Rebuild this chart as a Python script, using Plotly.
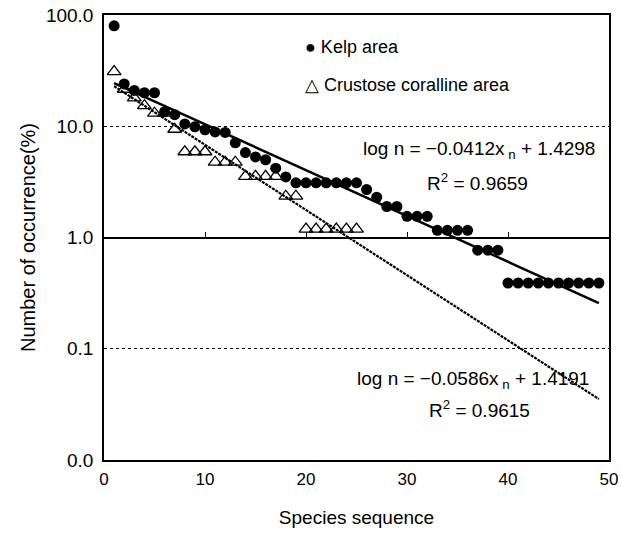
import plotly.graph_objects as go

# ---- data ----
kelp_x = list(range(1, 50))
kelp_y = [80, 24, 21, 20, 20, 13.5, 12.7, 10.5, 9.9, 9.3,
          8.9, 8.8, 7.1, 5.8, 5.3, 5.0, 4.2, 3.5,
          3.1, 3.1, 3.1, 3.1, 3.1, 3.1, 3.1,
          2.7, 2.3, 1.9, 1.9, 1.55, 1.55, 1.55,
          1.16, 1.16, 1.16, 1.16, 0.77, 0.77, 0.77,
          0.39, 0.39, 0.39, 0.39, 0.39, 0.39, 0.39, 0.39, 0.39, 0.39]

crust_x = list(range(1, 26))
crust_y = [31, 21.5, 18, 15.3, 13.1, 13.1, 9.4, 5.9, 5.9, 5.9,
           4.75, 4.75, 4.75, 3.55, 3.55, 3.55, 3.55, 2.35, 2.35,
           1.19, 1.19, 1.19, 1.19, 1.19, 1.19]

# regression lines: log10 n = a*x + b
kelp_fit = (-0.0412, 1.4298)
crust_fit = (-0.0586, 1.4191)
fit_x = [1, 49]

x_ticks = [0, 10, 20, 30, 40, 50]
y_ticks = [0.01, 0.1, 1, 10, 100]
y_ticktext = ["0.0", "0.1", "1.0", "10.0", "100.0"]

FONT = "Liberation Sans, Arial, sans-serif"

fig = go.Figure()

fig.add_trace(go.Scatter(
    x=fit_x, y=[10 ** (kelp_fit[0] * v + kelp_fit[1]) for v in fit_x],
    mode="lines", line=dict(color="black", width=2.5), xaxis="x2",
    showlegend=False, hoverinfo="skip"))
fig.add_trace(go.Scatter(
    x=fit_x, y=[10 ** (crust_fit[0] * v + crust_fit[1]) for v in fit_x],
    mode="lines", line=dict(color="black", width=2.2, dash="3px,1px"), xaxis="x2",
    showlegend=False, hoverinfo="skip"))

fig.add_trace(go.Scatter(
    x=kelp_x, y=kelp_y, mode="markers", name="Kelp area",
    marker=dict(symbol="circle", size=11, color="black"), showlegend=False))
fig.add_trace(go.Scatter(
    x=crust_x, y=crust_y, mode="markers", name="Crustose coralline area",
    marker=dict(symbol="triangle-up-open", size=12, color="black",
                line=dict(width=1.3, color="black")), showlegend=False))

fig.update_layout(
    width=621, height=536,
    margin=dict(l=104, r=12, t=15, b=76),
    paper_bgcolor="white", plot_bgcolor="white",
    font=dict(family=FONT, color="black", size=16),
    xaxis=dict(range=[0, 50], tickvals=x_ticks, showgrid=False, zeroline=False,
               showline=True, mirror=True, linecolor="black", linewidth=1.5,
               ticks="", tickfont=dict(size=17), automargin=False,
               ticklabelstandoff=3, ticklabeloverflow="allow",
               title=dict(text="Species sequence", font=dict(size=19), standoff=23)),
    xaxis2=dict(range=[0, 50], overlaying="x", matches="x", anchor="free",
                position=0.5, side="top", showline=True, linecolor="black",
                linewidth=1.5, ticks="outside", ticklen=5, tickcolor="black",
                tickvals=[10, 20, 30, 40], showticklabels=False, showgrid=False,
                zeroline=False, automargin=False),
    yaxis=dict(type="log", range=[-2, 2], tickvals=y_ticks, ticktext=y_ticktext,
               showgrid=True, griddash="dot", gridcolor="black", gridwidth=1,
               showline=True, mirror=True, linecolor="black", linewidth=1.5,
               ticks="", tickfont=dict(size=19), zeroline=False, automargin=False,
               ticklabelstandoff=5, ticklabeloverflow="allow",
               title=dict(text="Number of occurrence(%)", font=dict(size=20), standoff=5)),
    annotations=[
        dict(x=19.7, y=1.713, xref="x", yref="y", text="● Kelp area",
             showarrow=False, xanchor="left", yanchor="middle", font=dict(size=18)),
        dict(x=19.7, y=1.372, xref="x", yref="y", text="△ Crustose coralline area",
             showarrow=False, xanchor="left", yanchor="middle", font=dict(size=18)),
        dict(x=25.4, y=0.79, xref="x", yref="y",
             text="log n = −0.0412x<sub> n</sub> + 1.4298",
             showarrow=False, xanchor="left", yanchor="middle", font=dict(size=19)),
        dict(x=37.0, y=0.50, xref="x", yref="y", text="R<sup>2</sup> = 0.9659",
             showarrow=False, xanchor="center", yanchor="middle", font=dict(size=19)),
        dict(x=24.9, y=-1.283, xref="x", yref="y",
             text="log n = −0.0586x<sub> n</sub> + 1.4191",
             showarrow=False, xanchor="left", yanchor="middle", font=dict(size=19)),
        dict(x=37.2, y=-1.543, xref="x", yref="y", text="R<sup>2</sup> = 0.9615",
             showarrow=False, xanchor="center", yanchor="middle", font=dict(size=19)),
    ],
)

# remove the default page margin so the figure fills the 621x536 window exactly
fig.write_html(
    "out.html",
    config={"displayModeBar": False},
    post_script="document.body.style.margin='0';document.body.style.overflow='hidden';",
)
